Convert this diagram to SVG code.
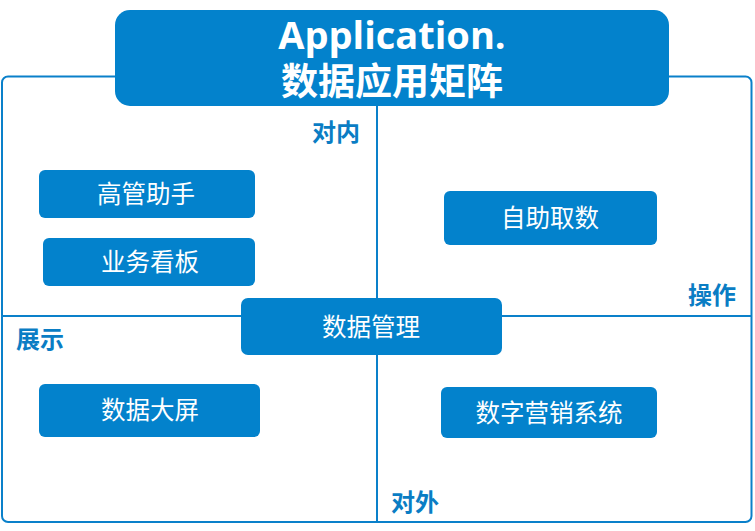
<svg xmlns="http://www.w3.org/2000/svg" width="755" height="531" viewBox="0 0 755 531">
<style>
.box{fill:#0382CC}
.t{font-family:"Noto Sans CJK SC","Noto Sans",sans-serif;fill:#fff;font-size:24.5px;text-anchor:middle}
.lab{font-family:"Noto Sans CJK SC","Noto Sans",sans-serif;fill:#0A7DC4;font-size:24px;font-weight:bold}
.ln{stroke:#0A80CA;stroke-width:2;fill:none}
</style>
<rect width="755" height="531" fill="#fff"/>
<g id="connectors">
<rect class="ln" x="2" y="76.5" width="749.5" height="445.5" rx="6"/>
<line class="ln" x1="377" y1="106" x2="377" y2="522"/>
<line class="ln" x1="2" y1="316" x2="751.5" y2="316"/>
</g>
<g id="title">
<rect class="box" x="115" y="10" width="554" height="96" rx="15"/>
<text x="392" y="49" font-family="'Open Sans','Noto Sans',sans-serif" font-weight="bold" font-size="38" fill="#fff" text-anchor="middle">Application.</text>
<text x="392" y="95" font-family="'Noto Sans CJK SC',sans-serif" font-weight="bold" font-size="37" fill="#fff" text-anchor="middle">数据应用矩阵</text>
</g>
<g id="label-duinei"><text class="lab" x="312" y="141">对内</text></g>
<g id="label-caozuo"><text class="lab" x="688" y="304">操作</text></g>
<g id="label-zhanshi"><text class="lab" x="16" y="348">展示</text></g>
<g id="label-duiwai"><text class="lab" x="391" y="511">对外</text></g>
<g id="gaoguan">
<rect class="box" x="39" y="170" width="216" height="48" rx="6"/>
<text class="t" x="146" y="203">高管助手</text>
</g>
<g id="yewu">
<rect class="box" x="43" y="238" width="212" height="48" rx="6"/>
<text class="t" x="150" y="271">业务看板</text>
</g>
<g id="zizhu">
<rect class="box" x="444" y="191" width="213" height="54" rx="6"/>
<text class="t" x="550" y="227">自助取数</text>
</g>
<g id="shujuguanli">
<rect class="box" x="241" y="298" width="261" height="57" rx="7"/>
<text class="t" x="371" y="336">数据管理</text>
</g>
<g id="dapin">
<rect class="box" x="39" y="384" width="221" height="53" rx="6"/>
<text class="t" x="150" y="419">数据大屏</text>
</g>
<g id="yingxiao">
<rect class="box" x="441" y="387" width="216" height="51" rx="6"/>
<text class="t" x="549" y="422">数字营销系统</text>
</g>
</svg>
